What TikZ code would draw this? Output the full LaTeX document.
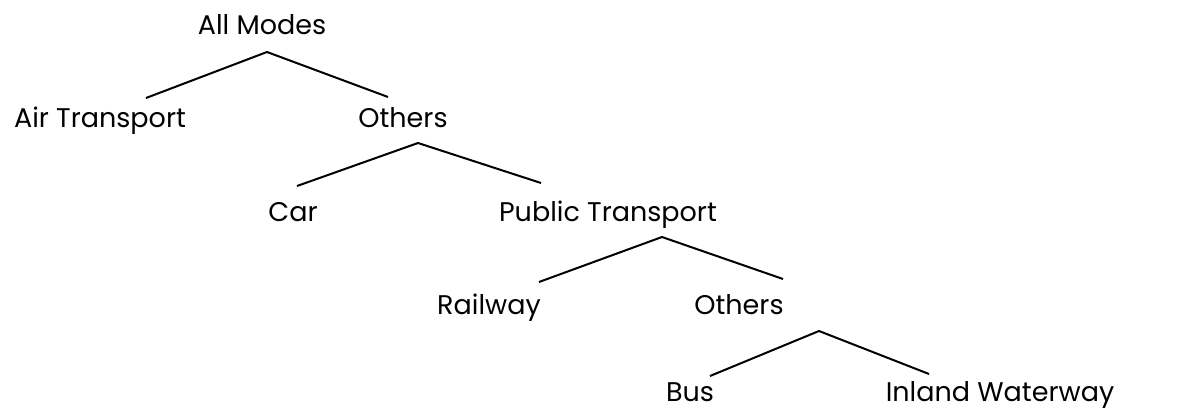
\documentclass[tikz,border=0pt]{standalone}
\usepackage{fontspec}
\setmainfont{Poppins}
\usetikzlibrary{positioning}
\usetikzlibrary{calc}

\tikzset{
  mode/.style={anchor=base, inner sep=0pt, font=\fontsize{27}{31}\selectfont},
  branch/.style={line width=2pt}
}

\begin{document}
\begin{tikzpicture}[x=1pt, y=-1pt]

    \useasboundingbox (0,0) rectangle (1178,412);

    % Top
    \node[mode] (all) at (262,35) {All Modes};
    \coordinate (allTop) at (267,52);

    % First split
    \node[mode] (air) at (100,127) {Air Transport};
    \node[mode] (others1) at (403,127) {Others};
    \coordinate (airEnd) at (146,98);
    \coordinate (others1End) at (388,97);
    \draw[branch] (airEnd) -- (allTop) -- (others1End);

    % Second split
    \coordinate (others1Top) at (418,143);
    \node[mode] (car) at (293,221) {Car};
    \node[mode] (public) at (608,221) {Public Transport};
    \coordinate (carEnd) at (297,186);
    \coordinate (publicEnd) at (541,183);
    \draw[branch] (carEnd) -- (others1Top) -- (publicEnd);

    % Third split
    \coordinate (publicTop) at (662,237);
    \node[mode] (rail) at (489,314) {Railway};
    \node[mode] (others2) at (739,314) {Others};
    \coordinate (railEnd) at (539,282);
    \coordinate (others2End) at (783,279);
    \draw[branch] (railEnd) -- (publicTop) -- (others2End);

    % Last split
    \coordinate (others2Top) at (819,331);
    \node[mode] (bus) at (690,401) {Bus};
    \node[mode] (inland) at (1000,401) {Inland Waterway};
    \coordinate (busEnd) at (710,376);
    \coordinate (inlandEnd) at (929,374);
    \draw[branch] (busEnd) -- (others2Top) -- (inlandEnd);

\end{tikzpicture}
\end{document}
